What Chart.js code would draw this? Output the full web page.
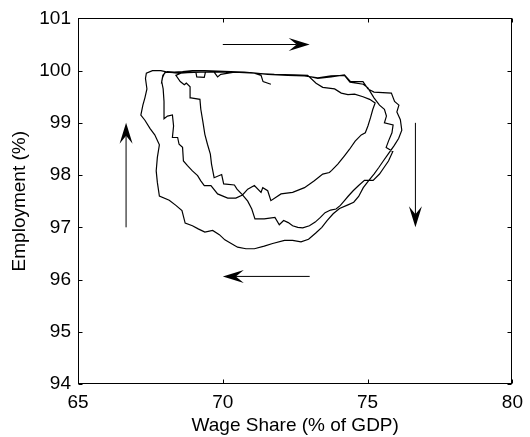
<!DOCTYPE html>
<html>
<head>
<meta charset="utf-8">
<script src="https://cdn.jsdelivr.net/npm/chart.js@4.4.0/dist/chart.umd.min.js"></script>
<style>
  html, body { margin: 0; padding: 0; background: #fff; }
  #wrap { width: 530px; height: 437px; position: relative; }
</style>
</head>
<body>
<div id="wrap"><canvas id="cycleChart"></canvas></div>
<script>
// Wage share vs employment - clockwise cycles

// Trajectory, in time order
const wageShare = [
  67.88, 67.92, 68.00,
  68.09, 68.32, 68.61, 68.95, 69.36, 69.82, 70.28, 70.74, 71.20, 71.66, 72.24, 72.82,
  73.28, 73.74, 74.20, 74.41, 74.84, 75.01, 75.22, 75.82, 75.93, 76.08, 76.01, 76.13, 76.18, 76.07,
  75.91, 75.72, 75.54, 75.38, 75.22, 75.03, 74.85, 74.69, 74.52, 74.32, 74.03, 73.81, 73.60, 73.42,
  73.21, 72.96,
  72.70, 72.41, 72.13, 71.72, 71.43, 71.09, 70.80, 70.51, 70.26, 70.07, 69.88, 69.65, 69.38, 69.15,
  68.95, 68.70, 68.59, 68.38, 68.15, 67.81,
  67.74, 67.70, 67.74, 67.81, 67.65, 67.49, 67.31, 67.17, 67.24, 67.31, 67.38, 67.33, 67.36,
  67.57, 67.86, 68.09, 68.44, 68.78, 69.07, 69.10, 69.36, 69.40, 69.70, 69.82, 69.93, 70.40, 70.97,
  71.55, 72.24, 72.82, 73.28, 73.74, 74.20, 74.39, 74.85, 75.01,
  75.22, 75.41, 75.58, 75.65, 75.58, 75.88, 75.84, 75.72, 75.64, 75.87, 75.72, 75.56, 75.41, 75.19,
  74.89, 74.69, 74.50, 74.32, 74.20, 74.06, 73.91, 73.72, 73.53, 73.37, 73.19, 72.99, 72.76,
  72.59, 72.41, 72.26, 72.10, 71.95, 71.80, 71.43, 71.11, 71.00, 70.86, 70.68, 70.49, 70.40, 70.03,
  69.96, 69.70,
  69.61, 69.57, 69.47, 69.38, 69.31, 69.24, 69.21, 68.90, 68.87, 68.74, 68.67, 68.53, 68.38,
  68.55, 68.78, 69.24, 69.70, 70.40, 71.09, 71.78, 72.47, 72.93, 73.22, 73.45, 73.86, 74.09, 74.32,
  74.55, 74.84, 75.07, 75.26,
  75.18, 75.10, 75.01, 74.92, 74.78, 74.57, 74.37, 74.20, 73.97, 73.76, 73.68, 73.45, 73.16, 72.82,
  72.41, 72.01, 71.66, 71.55, 71.38, 71.32, 71.09, 70.86, 70.68, 70.45, 70.17, 69.82, 69.59, 69.36,
  69.24,
  69.13, 68.95, 68.78, 68.64, 68.61, 68.49, 68.44, 68.26, 68.30, 68.26, 68.09, 67.97, 67.97, 67.94,
  67.89, 67.93, 68.03,
  68.32, 68.78, 69.24, 69.93, 70.63, 71.09, 71.32, 71.39, 71.66
];
const employment = [
  99.75, 99.87, 99.97,
  99.98, 99.97, 99.98, 100.00, 100.00, 99.99, 99.98, 99.97, 99.95, 99.93, 99.92, 99.91,
  99.85, 99.88, 99.92, 99.79, 99.79, 99.65, 99.59, 99.57, 99.41, 99.34, 99.21, 99.06, 98.86, 98.70,
  98.56, 98.41, 98.27, 98.14, 98.02, 97.89, 97.76, 97.59, 97.48, 97.43, 97.36, 97.26, 97.13, 97.00,
  96.89, 96.77,
  96.72, 96.75, 96.75, 96.69, 96.64, 96.59, 96.59, 96.62, 96.70, 96.76, 96.86, 96.94, 96.91, 96.97,
  97.03, 97.08, 97.32, 97.42, 97.52, 97.60,
  97.86, 98.08, 98.34, 98.58, 98.77, 98.89, 99.05, 99.15, 99.34, 99.48, 99.65, 99.85, 99.95,
  100.00, 100.00, 99.97, 99.95, 99.96, 99.97, 99.88, 99.87, 99.97, 99.97, 99.88, 99.93, 99.97, 99.96,
  99.93, 99.91, 99.90, 99.86, 99.90, 99.91, 99.78, 99.74, 99.67,
  99.48, 99.34, 99.26, 99.13, 99.00, 98.96, 98.81, 98.65, 98.53, 98.45, 98.27, 98.14, 98.02, 97.90,
  97.90, 97.80, 97.70, 97.59, 97.51, 97.42, 97.35, 97.33, 97.28, 97.19, 97.10, 97.03, 96.99,
  97.00, 97.03, 97.09, 97.13, 97.05, 97.19, 97.16, 97.16, 97.35, 97.50, 97.62, 97.73, 97.81, 97.83,
  98.01, 97.95,
  98.21, 98.40, 98.59, 98.78, 99.03, 99.26, 99.45, 99.48, 99.69, 99.76, 99.73, 99.79, 99.91,
  99.95, 99.96, 99.97, 99.97, 99.97, 99.95, 99.93, 99.92, 99.91, 99.76, 99.68, 99.65, 99.57, 99.54,
  99.55, 99.50, 99.45, 99.38,
  99.26, 99.10, 98.94, 98.81, 98.77, 98.65, 98.49, 98.37, 98.21, 98.09, 98.05, 98.02, 97.89, 97.76,
  97.67, 97.64, 97.51, 97.70, 97.76, 97.67, 97.80, 97.73, 97.62, 97.56, 97.56, 97.64, 97.80, 97.80,
  97.89,
  97.99, 98.08, 98.18, 98.27, 98.53, 98.59, 98.72, 98.72, 98.94, 99.15, 99.13, 99.08, 99.41, 99.65,
  99.79, 99.91, 99.97,
  99.96, 99.97, 99.97, 99.97, 99.97, 99.95, 99.91, 99.79, 99.74
];

const xTicks = [65, 70, 75, 80];
const yTicks = [94, 95, 96, 97, 98, 99, 100, 101];

// Direction arrows (tail -> head), data units
const arrowTailX = [70.0, 76.65, 73.0, 66.66];
const arrowTailY = [100.5, 99.0, 96.06, 97.0];
const arrowHeadX = [73.0, 76.65, 70.0, 66.66];
const arrowHeadY = [100.5, 97.0, 96.06, 99.0];

Chart.defaults.font.family = '"Liberation Sans", Arial, Helvetica, sans-serif';
Chart.defaults.font.size = 19;
Chart.defaults.color = '#000';

function drawArrow(ctx, x0, y0, x1, y1) {
  const ang = Math.atan2(y1 - y0, x1 - x0);
  const c = Math.cos(ang), s = Math.sin(ang);
  const len = 21, half = 6.5, notch = 13;
  ctx.beginPath();
  ctx.moveTo(x0, y0);
  ctx.lineTo(x1 - notch * c, y1 - notch * s);
  ctx.stroke();
  ctx.beginPath();
  ctx.moveTo(x1, y1);
  ctx.lineTo(x1 - len * c + half * s, y1 - len * s - half * c);
  ctx.lineTo(x1 - notch * c, y1 - notch * s);
  ctx.lineTo(x1 - len * c - half * s, y1 - len * s + half * c);
  ctx.closePath();
  ctx.fill();
}

const framePlugin = {
  id: 'frame',
  afterDraw(chart) {
    const { ctx, chartArea: a, scales: { x, y } } = chart;
    const L = Math.round(a.left) + 0.5, R = Math.round(a.right) - 0.5;
    const T = Math.round(a.top) + 0.5, B = Math.round(a.bottom) - 0.5;
    const tick = 4;
    ctx.save();
    ctx.strokeStyle = '#000';
    ctx.fillStyle = '#000';
    ctx.lineWidth = 1;
    ctx.strokeRect(L, T, R - L, B - T);
    ctx.beginPath();
    xTicks.forEach(v => {
      const px = Math.round(x.getPixelForValue(v)) + 0.5;
      ctx.moveTo(px, B); ctx.lineTo(px, B - tick);
      ctx.moveTo(px, T); ctx.lineTo(px, T + tick);
    });
    yTicks.forEach(v => {
      const py = Math.round(y.getPixelForValue(v)) + 0.5;
      ctx.moveTo(L, py); ctx.lineTo(L + tick, py);
      ctx.moveTo(R, py); ctx.lineTo(R - tick, py);
    });
    ctx.stroke();

    ctx.lineWidth = 1;
    arrowTailX.forEach((_, i) => {
      drawArrow(ctx,
        x.getPixelForValue(arrowTailX[i]), y.getPixelForValue(arrowTailY[i]),
        x.getPixelForValue(arrowHeadX[i]), y.getPixelForValue(arrowHeadY[i]));
    });
    ctx.restore();
  }
};

const ctx = document.getElementById('cycleChart').getContext('2d');
new Chart(ctx, {
  type: 'scatter',
  data: {
    datasets: [{
      data: wageShare.map((w, i) => ({ x: w, y: employment[i] })),
      showLine: true,
      borderColor: '#000',
      borderWidth: 1.2,
      pointRadius: 0,
      fill: false,
      tension: 0
    }]
  },
  options: {
    responsive: true,
    maintainAspectRatio: false,
    animation: false,
    layout: { padding: { top: 17, right: 12, left: 0, bottom: 0 } },
    plugins: { legend: { display: false }, tooltip: { enabled: false } },
    scales: {
      x: {
        type: 'linear',
        min: 65, max: 80,
        afterBuildTicks: s => { s.ticks = xTicks.map(v => ({ value: v })); },
        afterFit: s => { s.height = 53; },
        grid: { display: false, drawTicks: false },
        border: { display: false },
        ticks: { padding: 7, maxRotation: 0 },
        title: { display: true, text: 'Wage Share (% of GDP)', padding: { top: 0, bottom: 0 } }
      },
      y: {
        type: 'linear',
        min: 94, max: 101,
        afterBuildTicks: s => { s.ticks = yTicks.map(v => ({ value: v })); },
        afterFit: s => { s.width = 78; },
        grid: { display: false, drawTicks: false },
        border: { display: false },
        ticks: { padding: 7 },
        title: { display: true, text: 'Employment (%)', padding: { top: 8, bottom: 0 } }
      }
    }
  },
  plugins: [framePlugin]
});
</script>
</body>
</html>
